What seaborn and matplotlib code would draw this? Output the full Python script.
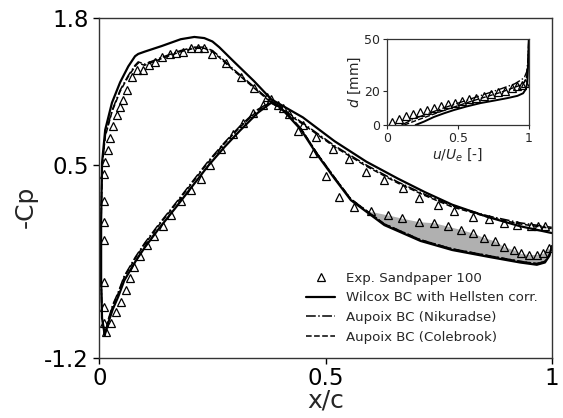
import matplotlib
matplotlib.use("Agg")
import matplotlib.pyplot as plt
import numpy as np
import seaborn as sns

# main plot: -Cp along the chord, upper curve (peak ~1.6) and lower curve (peak ~1.05)
SUC_X = [0.012, 0.006, 0.004, 0.004, 0.006, 0.013, 0.028, 0.046, 0.064, 0.079, 0.086, 0.10, 0.138, 0.18,
         0.21, 0.232, 0.25, 0.265, 0.298, 0.342, 0.38, 0.45, 0.52, 0.59, 0.66, 0.72, 0.78, 0.86, 0.93, 1.0]
SUC_WILCOX = [-1.0, -0.85, -0.5, 0.0, 0.52, 0.81, 1.05, 1.23, 1.37, 1.46, 1.48, 1.50, 1.55, 1.61,
              1.63, 1.62, 1.59, 1.54, 1.41, 1.24, 1.08, 0.92, 0.71, 0.53, 0.38, 0.26, 0.15, 0.04, -0.04, -0.10]
SUC_NIKURADSE = [-1.0, -0.85, -0.5, 0.0, 0.48, 0.76, 0.98, 1.16, 1.29, 1.38, 1.41, 1.39, 1.45, 1.51,
                 1.54, 1.54, 1.51, 1.46, 1.34, 1.19, 1.06, 0.87, 0.67, 0.50, 0.35, 0.24, 0.14, 0.05, -0.01, -0.05]
SUC_COLEBROOK = [-1.0, -0.85, -0.5, 0.0, 0.47, 0.75, 0.97, 1.15, 1.28, 1.37, 1.40, 1.38, 1.44, 1.50,
                 1.53, 1.53, 1.50, 1.45, 1.33, 1.18, 1.05, 0.86, 0.66, 0.49, 0.34, 0.23, 0.13, 0.04, -0.02, -0.06]

PRE_X = [0.012, 0.02, 0.03, 0.042, 0.055, 0.08, 0.10, 0.13, 0.17, 0.203, 0.24, 0.277, 0.31, 0.35, 0.38,
         0.40, 0.446, 0.48, 0.52, 0.556, 0.593, 0.63, 0.67, 0.71, 0.78, 0.86, 0.93, 0.967, 0.985, 0.995, 1.0]
PRE_WILCOX = [-1.0, -0.89, -0.77, -0.66, -0.52, -0.35, -0.23, -0.07, 0.13, 0.30, 0.49, 0.66, 0.80, 0.96, 1.05,
              1.01, 0.81, 0.60, 0.38, 0.19, 0.08, -0.03, -0.10, -0.17, -0.25, -0.31, -0.36, -0.38, -0.36, -0.30, -0.22]
PRE_NIKURADSE = [-1.0, -0.86, -0.73, -0.62, -0.48, -0.31, -0.19, -0.03, 0.17, 0.34, 0.53, 0.70, 0.84, 0.99, 1.06,
                 1.02, 0.82, 0.61, 0.39, 0.20, 0.09, -0.02, -0.09, -0.16, -0.24, -0.30, -0.35, -0.37, -0.35, -0.29, -0.21]
PRE_COLEBROOK = [-1.0, -0.87, -0.74, -0.63, -0.49, -0.32, -0.20, -0.04, 0.16, 0.33, 0.52, 0.69, 0.83, 0.98, 1.06,
                 1.02, 0.82, 0.61, 0.39, 0.20, 0.09, -0.02, -0.09, -0.16, -0.24, -0.30, -0.35, -0.37, -0.35, -0.29, -0.21]

EXP_SUC_X = [0.010, 0.010, 0.010, 0.010, 0.010, 0.010, 0.010, 0.013, 0.020, 0.024, 0.031, 0.039, 0.046, 0.053,
             0.061, 0.072, 0.083, 0.097, 0.110, 0.124, 0.138, 0.157, 0.170, 0.186, 0.203, 0.218, 0.232, 0.250,
             0.280, 0.313, 0.342, 0.370, 0.395, 0.42, 0.45, 0.48, 0.516, 0.552, 0.589, 0.629, 0.671, 0.706,
             0.748, 0.784, 0.825, 0.861, 0.894, 0.924, 0.954, 0.970, 0.985]
EXP_SUC_Y = [-0.89, -0.75, -0.53, -0.16, 0.0, 0.18, 0.42, 0.53, 0.63, 0.74, 0.84, 0.94, 1.01, 1.07,
             1.16, 1.28, 1.34, 1.34, 1.38, 1.41, 1.45, 1.48, 1.49, 1.50, 1.53, 1.53, 1.53, 1.48,
             1.40, 1.28, 1.18, 1.10, 1.03, 0.95, 0.85, 0.75, 0.64, 0.55, 0.44, 0.37, 0.30, 0.21,
             0.15, 0.09, 0.04, 0.02, -0.01, -0.03, -0.04, -0.04, -0.04]

EXP_PRE_X = [0.015, 0.026, 0.037, 0.048, 0.058, 0.068, 0.077, 0.09, 0.105, 0.12, 0.141, 0.159, 0.181, 0.203,
             0.225, 0.245, 0.27, 0.296, 0.318, 0.34, 0.362, 0.38, 0.405, 0.44, 0.472, 0.50, 0.53, 0.563,
             0.60, 0.637, 0.67, 0.706, 0.74, 0.77, 0.80, 0.825, 0.85, 0.874, 0.894, 0.917, 0.932, 0.95,
             0.967, 0.98, 0.993]
EXP_PRE_Y = [-0.97, -0.89, -0.80, -0.71, -0.60, -0.50, -0.40, -0.30, -0.21, -0.13, -0.04, 0.06, 0.18, 0.28,
             0.38, 0.50, 0.64, 0.77, 0.87, 0.96, 1.03, 1.08, 1.0, 0.80, 0.61, 0.40, 0.22, 0.13,
             0.09, 0.06, 0.03, 0.0, -0.01, -0.04, -0.07, -0.10, -0.14, -0.17, -0.22, -0.25, -0.28, -0.29,
             -0.29, -0.28, -0.23]
SHADE_FROM = 0.60  # grey band between experiment and models on the lower curve

# inset: velocity profile
PROF_WILCOX_U = [0.20, 0.26, 0.33, 0.40, 0.47, 0.56, 0.66, 0.76, 0.85, 0.92, 0.96, 0.98, 0.99, 0.995, 1.0]
PROF_WILCOX_D = [0, 2, 4.7, 6.8, 8.7, 10.8, 12.8, 14.3, 15.7, 17, 18.5, 21, 25, 35, 50]
PROF_NIK_U = [0.10, 0.2, 0.4, 0.6, 0.8, 0.9, 0.95, 0.97, 0.985, 0.995, 1.0]
PROF_NIK_D = [0, 4, 10, 15.5, 21, 24, 26.5, 28, 31, 38, 50]
PROF_COLE_U = [0.12, 0.2, 0.4, 0.6, 0.8, 0.9, 0.95, 0.97, 0.985, 0.995, 1.0]
PROF_COLE_D = [0, 2.5, 8.5, 14, 19, 22, 23.5, 25, 28, 36, 50]
PROF_EXP_U = [0.03, 0.08, 0.13, 0.18, 0.23, 0.28, 0.33, 0.38, 0.43, 0.48, 0.53, 0.58, 0.63, 0.68, 0.73,
              0.78, 0.83, 0.88, 0.92, 0.95, 0.97]
PROF_EXP_D = [2.0, 3.5, 5.0, 6.5, 7.5, 8.7, 9.7, 11, 12, 13, 14, 15, 16, 17, 18, 19, 20, 21.5, 22.5, 23.5, 24.5]

LABELS = ["Exp. Sandpaper 100", "Wilcox BC with Hellsten corr.",
          "Aupoix BC (Nikuradse)", "Aupoix BC (Colebrook)"]


def line(ax, x, y, ls, lw, label=None):
    sns.lineplot(x=x, y=y, ax=ax, sort=False, estimator=None, color="black",
                 linestyle=ls, linewidth=lw, label=label, legend=False)


def markers(ax, x, y, ms, label=None):
    sns.lineplot(x=x, y=y, ax=ax, sort=False, estimator=None, linestyle="", marker="^",
                 markersize=ms, markerfacecolor="none", markeredgecolor="black",
                 markeredgewidth=0.9, color="black", label=label, legend=False)


sns.set_theme(style="ticks")
plt.rcParams["font.family"] = ["DejaVu Sans"]

fig = plt.figure(figsize=(5.63, 4.18), dpi=100)
ax = fig.add_axes([0.1764, 0.1443, 0.8036, 0.8134])

# grey region between experiment and the models
fx = np.array([x for x in EXP_PRE_X if x >= SHADE_FROM])
fy = np.array([y for x, y in zip(EXP_PRE_X, EXP_PRE_Y) if x >= SHADE_FROM])
ax.fill_between(fx, np.interp(fx, PRE_X, PRE_WILCOX), fy, color="0.69", linewidth=0, zorder=1)

line(ax, SUC_X, SUC_WILCOX, "-", 1.6, LABELS[1])
line(ax, SUC_X, SUC_NIKURADSE, "-.", 1.1, LABELS[2])
line(ax, SUC_X, SUC_COLEBROOK, "--", 1.1, LABELS[3])
line(ax, PRE_X, PRE_WILCOX, "-", 1.6)
line(ax, PRE_X, PRE_NIKURADSE, "-.", 1.1)
line(ax, PRE_X, PRE_COLEBROOK, "--", 1.1)
markers(ax, EXP_SUC_X, EXP_SUC_Y, 6, LABELS[0])
markers(ax, EXP_PRE_X, EXP_PRE_Y, 6)

ax.set_xlim(0, 1)
ax.set_ylim(-1.2, 1.8)
ax.set_xticks([0, 0.5, 1])
ax.set_xticklabels(["0", "0.5", "1"])
ax.set_yticks([-1.2, 0.5, 1.8])
ax.set_yticklabels(["-1.2", "0.5", "1.8"])
ax.tick_params(labelsize=16.5, direction="out", length=4, width=1, colors="black")
ax.tick_params(axis="x", pad=2.5)
ax.set_xlabel("x/c", fontsize=18, labelpad=-1)
ax.set_ylabel("-Cp", fontsize=18)
ax.yaxis.set_label_coords(-0.135, 0.445)
for s in ax.spines.values():
    s.set_color("#333333")
    s.set_linewidth(1.0)

handles, labels = ax.get_legend_handles_labels()
order = [labels.index(l) for l in LABELS]
ax.legend([handles[i] for i in order], LABELS, loc="lower right", frameon=False,
          fontsize=9.6, handlelength=2.2, borderaxespad=0.65)

# inset: boundary-layer profile
ins = fig.add_axes([0.688, 0.701, 0.2512, 0.205])
line(ins, PROF_WILCOX_U, PROF_WILCOX_D, "-", 1.4)
line(ins, PROF_NIK_U, PROF_NIK_D, "-.", 1.0)
line(ins, PROF_COLE_U, PROF_COLE_D, "--", 1.0)
markers(ins, PROF_EXP_U, PROF_EXP_D, 5.5)
ins.set_xlim(0, 1)
ins.set_ylim(0, 50)
ins.set_xticks([0, 0.5, 1])
ins.set_xticklabels(["0", "0.5", "1"])
ins.set_yticks([0, 20, 50])
ins.tick_params(labelsize=9, direction="out", length=3, width=0.8, pad=2)
ins.set_xlabel("$u/U_e$ [-]", fontsize=10, labelpad=1)
ins.set_ylabel("$d$ [mm]", fontsize=10, labelpad=1)
for s in ins.spines.values():
    s.set_color("#333333")
    s.set_linewidth(0.9)

fig.savefig("out.png", dpi=100)
